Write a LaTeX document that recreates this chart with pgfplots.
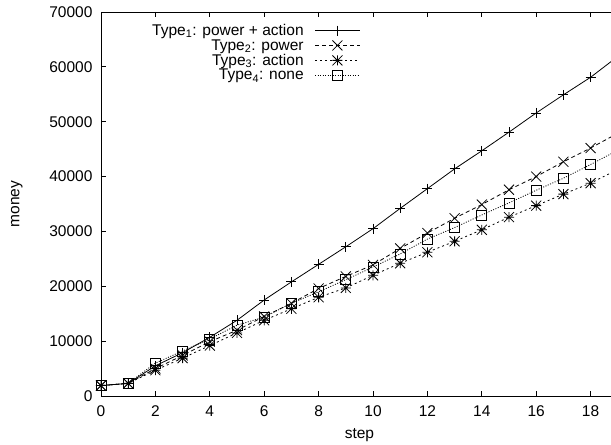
\documentclass[border=0pt]{standalone}
\usepackage{pgfplots}
\pgfplotsset{compat=1.18}
\usepackage{pgfplotstable}
\usepackage{fontspec}
\setmainfont{Liberation Sans}
\pgfdeclareplotmark{gstar}{%
  \pgfpathmoveto{\pgfqpoint{-\pgfplotmarksize}{0pt}}\pgfpathlineto{\pgfqpoint{\pgfplotmarksize}{0pt}}%
  \pgfpathmoveto{\pgfqpoint{0pt}{-\pgfplotmarksize}}\pgfpathlineto{\pgfqpoint{0pt}{\pgfplotmarksize}}%
  \pgfpathmoveto{\pgfqpoint{-\pgfplotmarksize}{-\pgfplotmarksize}}\pgfpathlineto{\pgfqpoint{\pgfplotmarksize}{\pgfplotmarksize}}%
  \pgfpathmoveto{\pgfqpoint{-\pgfplotmarksize}{\pgfplotmarksize}}\pgfpathlineto{\pgfqpoint{\pgfplotmarksize}{-\pgfplotmarksize}}%
  \pgfusepathqstroke}
\pgfdeclareplotmark{gx}{%
  \pgfpathmoveto{\pgfqpoint{-\pgfplotmarksize}{-\pgfplotmarksize}}\pgfpathlineto{\pgfqpoint{\pgfplotmarksize}{\pgfplotmarksize}}%
  \pgfpathmoveto{\pgfqpoint{-\pgfplotmarksize}{\pgfplotmarksize}}\pgfpathlineto{\pgfqpoint{\pgfplotmarksize}{-\pgfplotmarksize}}%
  \pgfusepathqstroke}
\pgfplotstableread{
k T1 T2 T3 T4
0 1900 1900 1900 1900
1 2300 2300 2300 2300
2 5500 5000 4700 6000
3 7900 7400 6900 8200
4 10700 9900 9200 10400
5 13800 12000 11500 12900
6 17500 14500 13800 14400
7 20800 16900 15900 16900
8 24000 19600 18000 19000
9 27200 21800 19700 21200
10 30500 23900 22000 23500
11 34200 26900 24200 25900
12 37800 29700 26200 28600
13 41400 32400 28200 30700
14 44700 34900 30300 33000
15 48100 37600 32600 35200
16 51600 40000 34700 37500
17 54900 42700 36800 39700
18 58100 45200 38800 42200
19 61900 47900 41300 44800
}\data
\newcommand{\ff}{\fontsize{15.5bp}{18bp}\selectfont}
\begin{document}
\begin{tikzpicture}
\useasboundingbox (0,0) rectangle (611bp,445bp);
\clip (0,0) rectangle (611bp,445bp);
\begin{axis}[
  at={(101bp,49bp)}, anchor=south west,
  scale only axis, width=516.8bp, height=384bp,
  xmin=0, xmax=19, ymin=0, ymax=70000,
  xtick={0,2,...,18}, ytick={0,10000,...,70000},
  ytick pos=left,
  tick align=inside, major tick length=5bp,
  scaled y ticks=false,
  /pgf/number format/assume math mode=true,
  /pgf/number format/set thousands separator={},
  tick label style={font=\ff},
  xticklabel style={yshift=-6bp},
  yticklabel style={xshift=-5bp},
  xlabel={step}, ylabel={money},
  label style={font=\ff},
  xlabel style={at={(axis description cs:0.5,-0.102)}, anchor=center},
  ylabel style={at={(axis description cs:-0.163,0.5)}, anchor=center},
  axis line style={line width=0.8bp},
  every tick/.style={line width=0.8bp, black},
  legend plot pos=right,
  legend cell align=right,
  legend style={draw=none, fill=none, font=\ff, at={(axis description cs:0.502,0.974)}, anchor=north east, inner sep=0pt, row sep=-1.5bp, column sep=9bp},
  legend image code/.code={\draw[mark repeat=2,mark phase=2,#1] plot coordinates {(0cm,0cm) (0.79cm,0cm) (1.58cm,0cm)};},
  every axis plot/.append style={black, line width=0.8bp, mark options={solid, line width=0.8bp}},
]
\addplot[mark=+, mark size=5bp] table[x=k,y=T1] {\data};
\addlegendentry{Type\textsubscript{1}: power + action}
\addplot[mark=gx, mark size=5bp, dash pattern=on 4bp off 3bp] table[x=k,y=T2] {\data};
\addlegendentry{Type\textsubscript{2}: power}
\addplot[mark=gstar, mark size=5bp, dash pattern=on 2bp off 3bp] table[x=k,y=T3] {\data};
\addlegendentry{Type\textsubscript{3}: action}
\addplot[mark=square, mark size=5bp, dash pattern=on 1bp off 1.5bp] table[x=k,y=T4] {\data};
\addlegendentry{Type\textsubscript{4}: none}
\end{axis}
\end{tikzpicture}
\end{document}
